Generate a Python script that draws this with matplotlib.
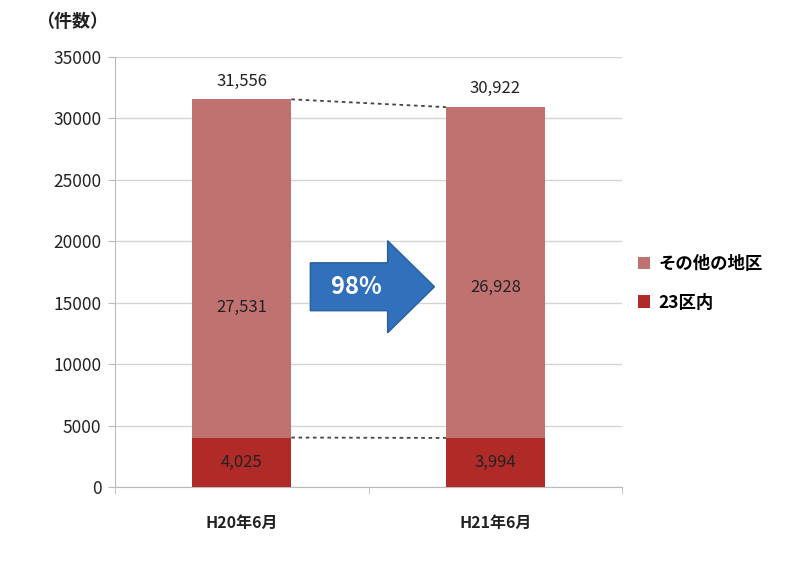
import matplotlib.pyplot as plt
from matplotlib.patches import FancyArrow
import numpy as np

plt.rcParams['font.family'] = ['Noto Sans CJK JP', 'DejaVu Sans']

# data
categories = ['H20年6月', 'H21年6月']
ward23 = [4025, 3994]
other = [27531, 26928]
totals = [31556, 30922]
ratio_label = '98%'
series_names = ['その他の地区', '23区内']
yticks = [0, 5000, 10000, 15000, 20000, 25000, 30000, 35000]

col_other = '#C07271'
col_ward = '#B02A28'
bar_w = 0.39

fig = plt.figure(figsize=(8, 5.68), dpi=100)
ax = fig.add_axes([0.144, 0.1426, 0.6335, 0.757])

x = np.arange(len(categories))
b_ward = ax.bar(x, ward23, width=bar_w, color=col_ward, zorder=3)
b_other = ax.bar(x, other, bottom=ward23, width=bar_w, color=col_other, zorder=3)

# value labels
for i in range(len(categories)):
    ax.text(x[i], ward23[i] / 2, f'{ward23[i]:,}', ha='center', va='center', fontsize=12, color='#222222', zorder=5)
    ax.text(x[i], ward23[i] + other[i] / 2 - [3200, 1200][i], f'{other[i]:,}', ha='center', va='center',
            fontsize=12, color='#222222', zorder=5)
    ax.text(x[i], totals[i] + 800, f'{totals[i]:,}', ha='center', va='bottom', fontsize=12, color='#222222')

# dashed connectors between the bars
ax.plot([x[0] + bar_w / 2, x[1] - bar_w / 2], [totals[0], totals[1]], ls=(0, (2, 2)), color='#444444', lw=1.3, zorder=4)
ax.plot([x[0] + bar_w / 2, x[1] - bar_w / 2], [ward23[0], ward23[1]], ls=(0, (2, 2)), color='#444444', lw=1.3, zorder=4)

# blue arrow with ratio
arr = FancyArrow(0.27, 16300, 0.305, 0, width=3900, head_width=7500, head_length=0.185,
                 length_includes_head=False, color='#3170BA', ec='#2A5F9E', zorder=4)
ax.add_patch(arr)
ax.text(0.45, 16300, ratio_label, ha='center', va='center', fontsize=17, fontweight='bold', color='white', zorder=5)

ax.set_xlim(-0.5, 1.5)
ax.set_ylim(0, 35000)
ax.set_yticks(yticks)
ax.set_yticklabels([str(v) for v in yticks], fontsize=12.5, color='#222222')
ax.set_xticks(x)
ax.set_xticklabels(categories, fontsize=11.5, fontweight='bold', color='#222222')
ax.set_xticks([-0.5, 0.5, 1.5], minor=True)
ax.tick_params(axis='x', which='major', length=0, pad=20)
ax.tick_params(axis='x', which='minor', length=5, color='#BBBBBB')
ax.tick_params(axis='y', length=5, color='#BBBBBB', pad=5)
ax.grid(axis='y', color='#D4D4D4', lw=1, zorder=0)
for s in ['top', 'right']:
    ax.spines[s].set_visible(False)
for s in ['left', 'bottom']:
    ax.spines[s].set_color('#BBBBBB')

fig.text(0.045, 0.962, '（件数）', fontsize=13, fontweight='bold', va='center', color='#222222')

ax.legend(handles=[b_other, b_ward], labels=series_names, loc='center left',
          bbox_to_anchor=(1.0, 0.474), frameon=False,
          handlelength=0.7, handleheight=0.7, handletextpad=0.5, labelspacing=1.2,
          prop={'weight': 'bold', 'size': 12.5})

fig.savefig('out.png', dpi=100)
